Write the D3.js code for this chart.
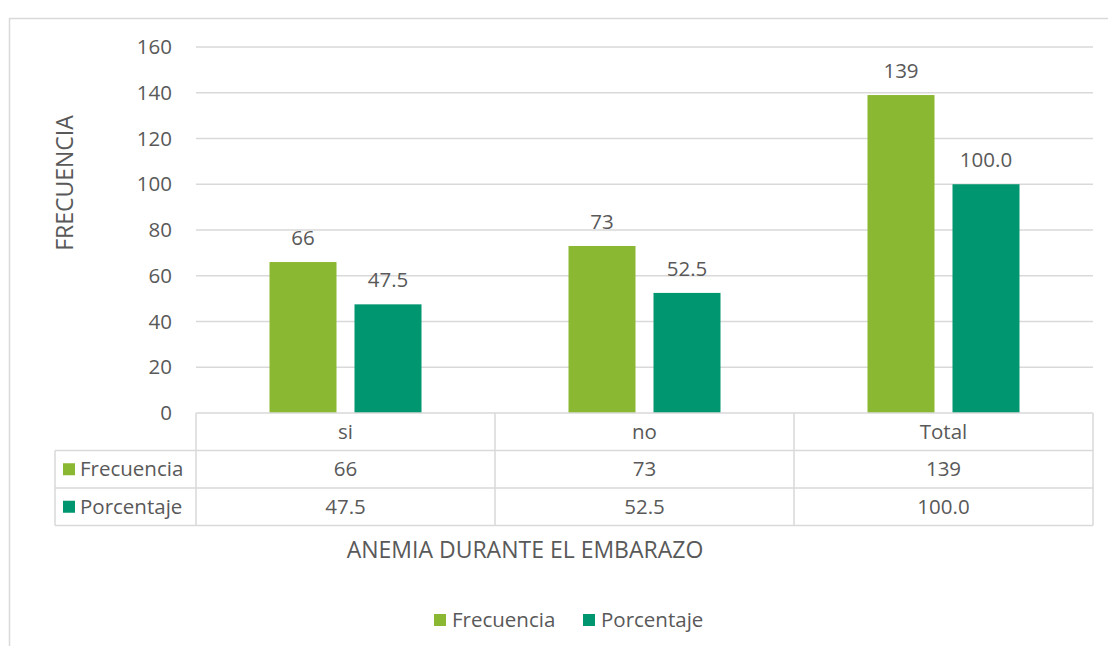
<!DOCTYPE html>
<html>
<head>
<meta charset="utf-8">
<script src="https://cdn.jsdelivr.net/npm/d3@7"></script>
<style>
  body { margin: 0; background: #fff; }
  svg text { font-family: "Open Sans", sans-serif; fill: #595959; }
</style>
</head>
<body>
<div id="chart"></div>
<script>
// data
var categories = ["si", "no", "Total"];
var frecuencia = [66, 73, 139];
var porcentaje = [47.5, 52.5, 100.0];
var seriesNames = ["Frecuencia", "Porcentaje"];
var yTicks = [0, 20, 40, 60, 80, 100, 120, 140, 160];

var colors = ["#8bb833", "#00966f"];
var grid = "#d9d9d9";
var fs = "20.5px";
var titleFs = "23px";

var W = 1108, H = 646;
var margin = {top: 47, right: 15, bottom: 233, left: 196};
var width = 1093 - margin.left, height = 413 - margin.top;

var svg = d3.select("#chart").append("svg")
  .attr("width", W).attr("height", H);

// outer chart frame (runs off the picture on right/bottom)
svg.append("rect")
  .attr("x", 9.5).attr("y", 18.5)
  .attr("width", 1120).attr("height", 700)
  .attr("fill", "none").attr("stroke", grid).attr("stroke-width", 1.5);

var g = svg.append("g")
  .attr("transform", "translate(" + margin.left + "," + margin.top + ")");

var x0 = d3.scaleBand().domain(categories).range([0, width]).padding(0);
var y = d3.scaleLinear().domain([0, 160]).range([height, 0]);

// gridlines
g.append("g")
  .selectAll("line").data(yTicks.slice(1)).enter().append("line")
  .attr("x1", 0).attr("x2", width)
  .attr("y1", function(d) { return y(d); }).attr("y2", function(d) { return y(d); })
  .attr("stroke", grid).attr("stroke-width", 1.5);

// y axis labels
var yAxis = g.append("g")
  .call(d3.axisLeft(y).tickValues(yTicks).tickSize(0).tickPadding(24));
yAxis.select(".domain").remove();
yAxis.selectAll("text")
  .style("font-size", fs).attr("fill", "#595959")
  .style("font-family", "'Open Sans', sans-serif");

// y title
svg.append("text")
  .attr("transform", "translate(73,183) rotate(-90)")
  .attr("text-anchor", "middle")
  .style("font-size", titleFs)
  .text("FRECUENCIA");

// bars
var barW = 67, gap = 18;
var series = [frecuencia, porcentaje];
var offsets = [-(barW + gap) / 2, (barW + gap) / 2];

series.forEach(function(vals, s) {
  var bars = g.append("g");
  bars.selectAll("rect").data(vals).enter().append("rect")
    .attr("x", function(d, i) { return x0(categories[i]) + x0.bandwidth() / 2 + offsets[s] - barW / 2; })
    .attr("y", function(d) { return y(d); })
    .attr("width", barW)
    .attr("height", function(d) { return height - y(d); })
    .attr("fill", colors[s]);
  bars.selectAll("text").data(vals).enter().append("text")
    .attr("x", function(d, i) { return x0(categories[i]) + x0.bandwidth() / 2 + offsets[s]; })
    .attr("y", function(d) { return y(d) - 17; })
    .attr("text-anchor", "middle")
    .style("font-size", fs)
    .text(function(d) { return s === 0 ? d : d.toFixed(1); });
});

// data table
var rowH = 37.5;
var tbl = g.append("g").attr("transform", "translate(0," + height + ")");
var legW = margin.left - 55;

// horizontal lines
[0, 1, 2, 3].forEach(function(r) {
  tbl.append("line")
    .attr("x1", r === 0 ? 0 : -legW).attr("x2", width)
    .attr("y1", r * rowH).attr("y2", r * rowH)
    .attr("stroke", grid).attr("stroke-width", 1.5);
});
// vertical lines
categories.concat(["end"]).forEach(function(c, i) {
  var xx = i < categories.length ? x0(c) : width;
  tbl.append("line")
    .attr("x1", xx).attr("x2", xx)
    .attr("y1", 0).attr("y2", 3 * rowH)
    .attr("stroke", grid).attr("stroke-width", 1.5);
});
tbl.append("line")
  .attr("x1", -legW).attr("x2", -legW)
  .attr("y1", rowH).attr("y2", 3 * rowH)
  .attr("stroke", grid).attr("stroke-width", 1.5);

// header row
tbl.selectAll("text.cat").data(categories).enter().append("text")
  .attr("class", "cat")
  .attr("x", function(d) { return x0(d) + x0.bandwidth() / 2; })
  .attr("y", rowH / 2 + 7)
  .attr("text-anchor", "middle")
  .style("font-size", fs)
  .text(function(d) { return d; });

series.forEach(function(vals, s) {
  var ry = (s + 1) * rowH;
  tbl.append("rect")
    .attr("x", -legW + 8).attr("y", ry + rowH / 2 - 6)
    .attr("width", 12).attr("height", 12)
    .attr("fill", colors[s]);
  tbl.append("text")
    .attr("x", -legW + 25).attr("y", ry + rowH / 2 + 7)
    .style("font-size", fs)
    .text(seriesNames[s]);
  tbl.selectAll("text.v" + s).data(vals).enter().append("text")
    .attr("class", "v" + s)
    .attr("x", function(d, i) { return x0(categories[i]) + x0.bandwidth() / 2; })
    .attr("y", ry + rowH / 2 + 7)
    .attr("text-anchor", "middle")
    .style("font-size", fs)
    .text(function(d) { return s === 0 ? d : d.toFixed(1); });
});

// x title
svg.append("text")
  .attr("x", 525).attr("y", 558)
  .attr("text-anchor", "middle")
  .style("font-size", titleFs)
  .text("ANEMIA DURANTE EL EMBARAZO");

// legend
var legend = svg.append("g").attr("transform", "translate(434,620)");
var legX = [0, 149];
seriesNames.forEach(function(n, s) {
  legend.append("rect")
    .attr("x", legX[s]).attr("y", -6)
    .attr("width", 12).attr("height", 12)
    .attr("fill", colors[s]);
  legend.append("text")
    .attr("x", legX[s] + 18).attr("y", 7)
    .style("font-size", fs)
    .text(n);
});
</script>
</body>
</html>
